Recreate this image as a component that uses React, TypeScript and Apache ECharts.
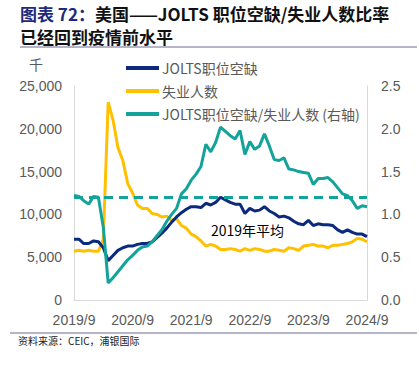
import React, { useEffect, useRef } from "react";
import * as echarts from "echarts";

// Months from 2019/9 to 2024/9
const START_YEAR = 2019;
const START_MONTH = 9;
const N_MONTHS = 61;
const categories: string[] = [];
for (let i = 0; i < N_MONTHS; i++) {
  const m0 = START_MONTH - 1 + i;
  categories.push(`${START_YEAR + Math.floor(m0 / 12)}/${(m0 % 12) + 1}`);
}

// JOLTS job openings (thousands)
const openings = [
  7100, 7100, 6600, 6600, 6900, 6800, 6100, 4600, 5200, 5800,
  6100, 6300, 6300, 6500, 6600, 6600, 6800, 7300, 7800, 8400,
  9100, 9700, 10200, 10600, 10900, 10900, 10800, 11300, 11100, 11400,
  12000, 11700, 11400, 11200, 11200, 10100, 10700, 10400, 10500, 10900,
  10400, 10100, 9700, 9800, 9600, 9200, 8900, 8800, 9300, 8700,
  8900, 8800, 8800, 8700, 8200, 7900, 8200, 7900, 7700, 7700,
  7400,
];

// Unemployed persons (thousands)
const unemployed = [
  5700, 5800, 5700, 5800, 5700, 5700, 7100, 23100, 21000, 17800,
  16300, 13600, 12500, 11100, 10700, 10700, 10100, 10000, 9700, 9800,
  9300, 9500, 8700, 8400, 7700, 7400, 6900, 6300, 6500, 6300,
  5900, 5900, 6000, 5900, 5700, 6000, 5800, 6000, 5900, 5700,
  5700, 5900, 5800, 5700, 6100, 6000, 5800, 6300, 6400, 6500,
  6300, 6300, 6100, 6400, 6400, 6500, 6600, 6800, 7200, 7100,
  6800,
];

// Job openings / unemployed ratio (right axis)
const ratio = [
  1.22, 1.21, 1.16, 1.12, 1.21, 1.2, 0.85, 0.2, 0.26, 0.33,
  0.4, 0.47, 0.52, 0.58, 0.62, 0.63, 0.68, 0.75, 0.82, 0.92,
  1.0, 1.07, 1.24, 1.3, 1.4, 1.47, 1.56, 1.82, 1.73, 1.84,
  2.02, 1.97, 1.92, 1.88, 1.98, 1.7, 1.85, 1.76, 1.8, 1.94,
  1.8, 1.64, 1.63, 1.66, 1.53, 1.52, 1.5, 1.49, 1.48, 1.35,
  1.42, 1.42, 1.43, 1.38, 1.31, 1.24, 1.22, 1.16, 1.07, 1.1,
  1.09,
];

const AVG_2019 = 1.2;

const leftTicks = { min: 0, max: 25000, interval: 5000 };
const rightTicks = { min: 0, max: 2.5, interval: 0.5 };

const NAMES = ["JOLTS职位空缺", "失业人数", "JOLTS职位空缺/失业人数 (右轴)"];
const COLORS = ["#0b2a7d", "#ffc000", "#13a39a"];

const FONT = "'Liberation Sans', 'Noto Sans CJK SC', sans-serif";
const CJK = "'Noto Sans CJK SC', sans-serif";

export default function App() {
  const ref = useRef<HTMLDivElement>(null);
  useEffect(() => {
    if (!ref.current) return;
    const chart = echarts.init(ref.current, undefined, { renderer: "svg" });
    chart.setOption({
      animation: false,
      backgroundColor: "#ffffff",
      grid: { left: 74, right: 52, top: 86, bottom: 65, containLabel: false },
      legend: {
        data: NAMES,
        orient: "vertical",
        left: 121,
        top: 56,
        itemWidth: 33,
        itemHeight: 4,
        itemGap: 9,
        icon: "rect",
        textStyle: { color: "#595959", fontSize: 14, fontFamily: CJK, padding: [0, 0, 0, -2] },
      },
      xAxis: {
        type: "category",
        data: categories,
        boundaryGap: false,
        axisLine: { show: true, lineStyle: { color: "#d9d9d9", width: 1 } },
        axisTick: { show: false },
        axisLabel: {
          interval: 11,
          color: "#595959",
          fontSize: 14,
          fontFamily: FONT,
          margin: 13,
          showMaxLabel: true,
        },
        splitLine: { show: false },
      },
      yAxis: [
        {
          type: "value",
          ...leftTicks,
          axisLine: { show: true, lineStyle: { color: "#d9d9d9" } },
          axisTick: { show: false },
          splitLine: { show: false },
          axisLabel: {
            color: "#595959",
            fontSize: 14,
            fontFamily: FONT,
            margin: 12,
            formatter: (v: number) => v.toLocaleString("en-US"),
          },
        },
        {
          type: "value",
          ...rightTicks,
          axisLine: { show: true, lineStyle: { color: "#d9d9d9" } },
          axisTick: { show: false },
          splitLine: { show: false },
          axisLabel: {
            color: "#595959",
            fontSize: 14,
            fontFamily: FONT,
            margin: 14,
            formatter: (v: number) => v.toFixed(1),
          },
        },
      ],
      series: [
        {
          name: NAMES[0],
          type: "line",
          data: openings,
          yAxisIndex: 0,
          symbol: "none",
          lineStyle: { color: COLORS[0], width: 3 },
          itemStyle: { color: COLORS[0] },
          z: 3,
        },
        {
          name: NAMES[1],
          type: "line",
          data: unemployed,
          yAxisIndex: 0,
          symbol: "none",
          lineStyle: { color: COLORS[1], width: 3 },
          itemStyle: { color: COLORS[1] },
          z: 2,
        },
        {
          name: NAMES[2],
          type: "line",
          data: ratio,
          yAxisIndex: 1,
          symbol: "none",
          lineStyle: { color: COLORS[2], width: 3 },
          itemStyle: { color: COLORS[2] },
          z: 4,
          markLine: {
            silent: true,
            symbol: "none",
            label: { show: false },
            lineStyle: { color: COLORS[2], width: 3, type: [9, 6] },
            data: [{ yAxis: AVG_2019 }],
          },
        },
      ],
      graphic: [
        {
          type: "text",
          left: 20,
          top: 4,
          style: {
            text: "{a|图表 72：}{b|美国——JOLTS 职位空缺/失业人数比率}",
            lineHeight: 18,
            rich: {
              a: { fill: "#1f2a7a", fontSize: 17, lineHeight: 18, fontWeight: "bold", fontFamily: CJK },
              b: { fill: "#111111", fontSize: 17, lineHeight: 18, fontWeight: "bold", fontFamily: CJK },
            },
          },
        },
        {
          type: "text",
          left: 20,
          top: 27,
          style: {
            text: "已经回到疫情前水平",
            fill: "#111111",
            fontSize: 17,
            lineHeight: 18,
            fontWeight: "bold",
            fontFamily: CJK,
          },
        },
        {
          type: "line",
          shape: { x1: 20, y1: 47, x2: 417, y2: 47 },
          style: { stroke: "#6b6b95", lineWidth: 1 },
        },
        {
          type: "text",
          left: 29,
          top: 57,
          style: { text: "千", fill: "#595959", fontSize: 14, fontFamily: CJK },
        },
        {
          type: "text",
          left: 211,
          top: 223,
          style: { text: "2019年平均", fill: "#000000", fontSize: 14, fontFamily: CJK },
        },
        {
          type: "line",
          shape: { x1: 10, y1: 333, x2: 417, y2: 333 },
          style: { stroke: "#6b6b95", lineWidth: 1 },
        },
        {
          type: "text",
          left: 18,
          top: 335,
          style: { text: "资料来源：CEIC，浦银国际", fill: "#222222", fontSize: 10, fontFamily: CJK },
        },
      ],
    });
    return () => chart.dispose();
  }, []);
  return (
    <div
      ref={ref}
      style={{ position: "fixed", left: 0, top: 0, width: 419, height: 365 }}
    />
  );
}
